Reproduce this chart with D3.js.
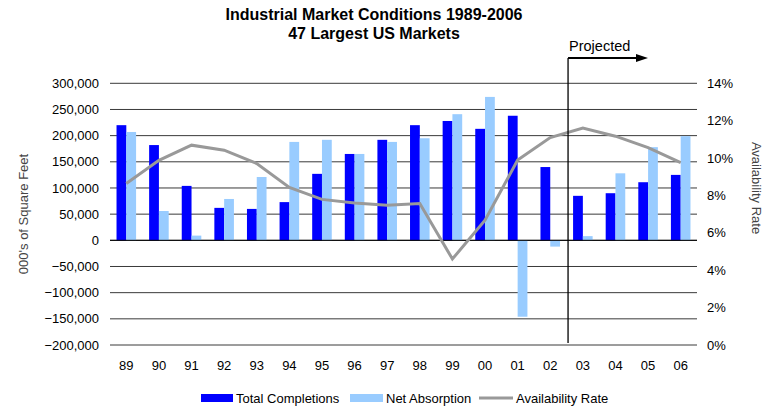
<!DOCTYPE html>
<html><head><meta charset="utf-8">
<script src="https://cdn.jsdelivr.net/npm/d3@7"></script>
<style>body{margin:0;background:#fff;} text{font-family:"Liberation Sans",Arial,sans-serif;}</style>
</head><body>
<svg id="c" width="774" height="407"></svg>
<script>
const categories = ["89","90","91","92","93","94","95","96","97","98","99","00","01","02","03","04","05","06"];
const totalCompletions = [220000,182000,104000,62000,60000,73000,127000,165000,192000,220000,228000,213000,238000,140000,85000,90000,111000,125000];
const netAbsorption = [207000,56000,9000,79000,121000,188000,192000,165000,188000,195000,241000,274000,-146000,-12000,8000,128000,178000,199000];
const availabilityRate = [8.64,9.88,10.69,10.42,9.71,8.43,7.79,7.60,7.48,7.57,4.60,6.68,9.89,11.10,11.61,11.17,10.56,9.76];
const leftTicks = [-200000,-150000,-100000,-50000,0,50000,100000,150000,200000,250000,300000];
const rightTicks = [0,2,4,6,8,10,12,14];
const projectedStart = "03";

const svg = d3.select("#c");
const L = 110, R = 697, T = 83.3, B = 345;
const x = d3.scaleBand().domain(categories).range([L, R]).paddingInner(0).paddingOuter(0);
const y = d3.scaleLinear().domain([-200000, 300000]).range([B, T]);
const y2 = d3.scaleLinear().domain([0, 14]).range([B, T]);
const bw = x.bandwidth() * 0.3;

// gridlines
svg.append("g").selectAll("line").data(leftTicks).join("line")
  .attr("x1", L).attr("x2", R).attr("y1", d => y(d)).attr("y2", d => y(d))
  .attr("stroke", "#3a3a3a").attr("stroke-width", 1);

// left axis labels
svg.append("g").selectAll("text").data(leftTicks).join("text")
  .attr("x", 99).attr("y", d => y(d)).attr("dy", "0.35em").attr("text-anchor", "end")
  .attr("font-size", 13).attr("fill", "#000").text(d => d3.format(",")(d));

// right axis labels
svg.append("g").selectAll("text").data(rightTicks).join("text")
  .attr("x", 707).attr("y", d => y2(d)).attr("dy", "0.35em").attr("text-anchor", "start")
  .attr("font-size", 13).attr("fill", "#000").text(d => d + "%");

// bars
const g = svg.append("g");
g.selectAll("rect.tc").data(categories).join("rect").attr("class","tc")
  .attr("x", (d) => x(d) + x.bandwidth()/2 - bw)
  .attr("width", bw)
  .attr("y", (d,i) => y(Math.max(0,totalCompletions[i])))
  .attr("height", (d,i) => Math.abs(y(totalCompletions[i]) - y(0)))
  .attr("fill", "#0000ff");
g.selectAll("rect.na").data(categories).join("rect").attr("class","na")
  .attr("x", (d) => x(d) + x.bandwidth()/2)
  .attr("width", bw)
  .attr("y", (d,i) => y(Math.max(0,netAbsorption[i])))
  .attr("height", (d,i) => Math.abs(y(netAbsorption[i]) - y(0)))
  .attr("fill", "#99ccff");

// zero line on top
svg.append("line").attr("x1", L).attr("x2", R).attr("y1", y(0)).attr("y2", y(0))
  .attr("stroke", "#000").attr("stroke-width", 1);

// availability line
const line = d3.line().x((d,i) => x(categories[i]) + x.bandwidth()/2).y(d => y2(d));
svg.append("path").datum(availabilityRate).attr("d", line)
  .attr("fill", "none").attr("stroke", "#999999").attr("stroke-width", 3).attr("stroke-linejoin","miter");

// x labels
svg.append("g").selectAll("text").data(categories).join("text")
  .attr("x", d => x(d) + x.bandwidth()/2).attr("y", 365).attr("dy","0.35em")
  .attr("text-anchor", "middle").attr("font-size", 13).text(d => d);

// projected marker
const px = x(projectedStart) + 1.5;
svg.append("line").attr("x1", px).attr("x2", px).attr("y1", 58).attr("y2", 343)
  .attr("stroke", "#000").attr("stroke-width", 1.3);
svg.append("line").attr("x1", px).attr("x2", 638).attr("y1", 58).attr("y2", 58)
  .attr("stroke", "#000").attr("stroke-width", 2);
svg.append("path").attr("d", `M636,54 L648,58 L636,62 Z`).attr("fill", "#000");
svg.append("text").attr("x", px + 1).attr("y", 51).attr("font-size", 14.5).text("Projected");

// titles
svg.append("text").attr("x", 374).attr("y", 19.5).attr("text-anchor","middle")
  .attr("font-size", 16).attr("font-weight","bold").text("Industrial Market Conditions 1989-2006");
svg.append("text").attr("x", 374).attr("y", 38.5).attr("text-anchor","middle")
  .attr("font-size", 16).attr("font-weight","bold").text("47 Largest US Markets");

svg.append("text").attr("transform", "translate(28,214) rotate(-90)").attr("text-anchor","middle")
  .attr("font-size", 13).attr("fill", "#444").text("000's of Square Feet");
svg.append("text").attr("transform", "translate(752,188) rotate(90)").attr("text-anchor","middle")
  .attr("font-size", 13).attr("fill", "#444").text("Availability Rate");

// legend
const lg = svg.append("g").attr("font-size", 13);
lg.append("rect").attr("x", 201).attr("y", 394).attr("width", 32).attr("height", 8).attr("fill", "#0000ff");
lg.append("text").attr("x", 236).attr("y", 398).attr("dy","0.35em").text("Total Completions");
lg.append("rect").attr("x", 350).attr("y", 394).attr("width", 33).attr("height", 8).attr("fill", "#99ccff");
lg.append("text").attr("x", 386).attr("y", 398).attr("dy","0.35em").text("Net Absorption");
lg.append("line").attr("x1", 479).attr("x2", 513).attr("y1", 398).attr("y2", 398).attr("stroke", "#999").attr("stroke-width", 3);
lg.append("text").attr("x", 516).attr("y", 398).attr("dy","0.35em").text("Availability Rate");
</script>
</body></html>
